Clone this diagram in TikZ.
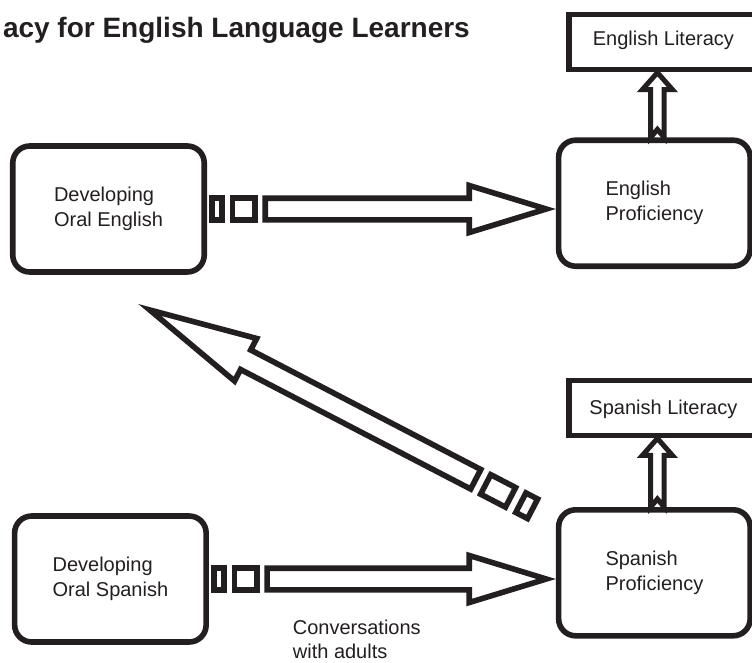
\documentclass[tikz,border=0pt]{standalone}
\usepackage{fontspec}
\setmainfont{Liberation Sans}
\usetikzlibrary{calc}

\definecolor{ink}{RGB}{35,31,32}
\newcommand\bodyfont{\fontsize{20}{25}\selectfont}

\tikzset{
  box/.style={draw=ink, line width=5.6pt, rounded corners=17pt,
    minimum width=191.5pt, minimum height=126pt, align=left,
    text=ink, font=\bodyfont, inner sep=0pt},
  litbox/.style={draw=ink, line width=5.6pt, minimum width=189pt,
    minimum height=55pt, text=ink, font=\bodyfont, inner sep=0pt,
    text height=14.3pt},
  arrowline/.style={draw=ink, fill=white, line width=5.6pt,
    line join=miter, miter limit=20},
  uparrow/.style={draw=ink, fill=white, line width=5pt,
    line join=miter, miter limit=20},
  caption/.style={text=ink, font=\fontsize{20}{24}\selectfont,
    align=left, inner sep=0pt, anchor=base west},
  heading/.style={text=ink, font=\bfseries\fontsize{28}{34}\selectfont,
    inner sep=0pt, anchor=base east}
}

% Hollow arrow from #1 to #2 (visible tip), with a broken tail.
% #3 head length, #4 tail stretch, #5 shaft half-width, #6 head half-width
\newcommand\hollowarrow[6]{%
  \pgfmathanglebetweenpoints{\pgfpointanchor{#1}{center}}{\pgfpointanchor{#2}{center}}%
  \let\haAng\pgfmathresult
  \pgfpointdiff{\pgfpointanchor{#1}{center}}{\pgfpointanchor{#2}{center}}%
  \pgfgetlastxy\haDx\haDy
  \pgfmathsetmacro\haTip{veclen(\haDx,\haDy)-2.8*veclen(#3,#6)/#6}%
  \pgfmathsetmacro\haBase{\haTip-#3}%
  \pgfmathsetmacro\haNa{4.8}%
  \pgfmathsetmacro\haNb{2+15.7*#4-2.8}%
  \pgfmathsetmacro\haSa{2+20.7*#4+2.8}%
  \pgfmathsetmacro\haSb{2+48.7*#4-2.8}%
  \pgfmathsetmacro\haSh{2+53.4*#4+2.8}%
  \begin{scope}[shift={(#1)}, rotate=\haAng]
    \draw[arrowline] (\haNa,-#5) -- (\haNb,-#5) -- (\haNb,#5) -- (\haNa,#5) -- cycle;
    \draw[arrowline] (\haSa,-#5) -- (\haSb,-#5) -- (\haSb,#5) -- (\haSa,#5) -- cycle;
    \draw[arrowline] (\haSh,-#5) -- (\haBase,-#5) -- (\haBase,-#6) -- (\haTip,0)
      -- (\haBase,#6) -- (\haBase,#5) -- (\haSh,#5) -- cycle;
  \end{scope}}

% Narrow hollow arrow with a notched foot, from #1 to #2 (visible tip)
\newcommand\litarrow[2]{%
  \pgfmathanglebetweenpoints{\pgfpointanchor{#1}{center}}{\pgfpointanchor{#2}{center}}%
  \let\laAng\pgfmathresult
  \pgfpointdiff{\pgfpointanchor{#1}{center}}{\pgfpointanchor{#2}{center}}%
  \pgfgetlastxy\laDx\laDy
  \pgfmathsetmacro\laTip{veclen(\laDx,\laDy)-2.5*veclen(17,15)/15}%
  \pgfmathsetmacro\laBase{\laTip-17}%
  \begin{scope}[shift={(#1)}, rotate=\laAng]
    \draw[uparrow] (0,-6.7) -- (\laBase,-6.7) -- (\laBase,-15) -- (\laTip,0)
      -- (\laBase,15) -- (\laBase,6.7) -- (0,6.7) -- (8,0) -- cycle;
  \end{scope}}

\begin{document}
\begin{tikzpicture}[x=1pt, y=-1pt]
\useasboundingbox (0,0) rectangle (752,662);
\fill[white] (0,0) rectangle (752,662);
\clip (0,0) rectangle (752,662);

\node[heading] (title) at (470,37) {acy for English Language Learners};

% boxes
\node[box] (oe) at (108.5,209) {Developing\\Oral English};
\node[box] (ep) at (654.4,203.2) {English\\Proficiency};
\node[box] (os) at (110.4,579) {Developing\\Oral Spanish};
\node[box] (sp) at (654.4,572.8) {Spanish\\Proficiency};
\node[litbox, text depth=8pt] (el) at (663.4,42) {English Literacy};
\node[litbox, text depth=0pt] (sl) at (663.4,407.8) {Spanish Literacy};

% base anchor sits on the last line of the caption
\node[caption] (conv) at (292.7,658) {Conversations\\with adults};

% arrow ends
\coordinate (t1) at (oe.east);
\coordinate (h1) at (ep.west |- t1);
\coordinate (t2) at (os.east);
\coordinate (h2) at (sp.west |- t2);
\coordinate (t3) at ($(sp.north west)+(-19,4)$);
\coordinate (h3) at (138.3,304);
\coordinate (eb) at ($(ep.north)+(3,0)$);
\coordinate (et) at ($(el.south -| eb)+(0,-3.5)$);
\coordinate (sb) at ($(sp.north)+(3,0)$);
\coordinate (st) at ($(sl.south -| sb)+(0,-3.5)$);

% arrows
\hollowarrow{t1}{h1}{77}{1}{10.8}{23.5}
\hollowarrow{t2}{h2}{77}{1}{10.8}{23.5}
\hollowarrow{t3}{h3}{108}{1.2}{11}{24}
\litarrow{eb}{et}
\litarrow{sb}{st}
\end{tikzpicture}
\end{document}
